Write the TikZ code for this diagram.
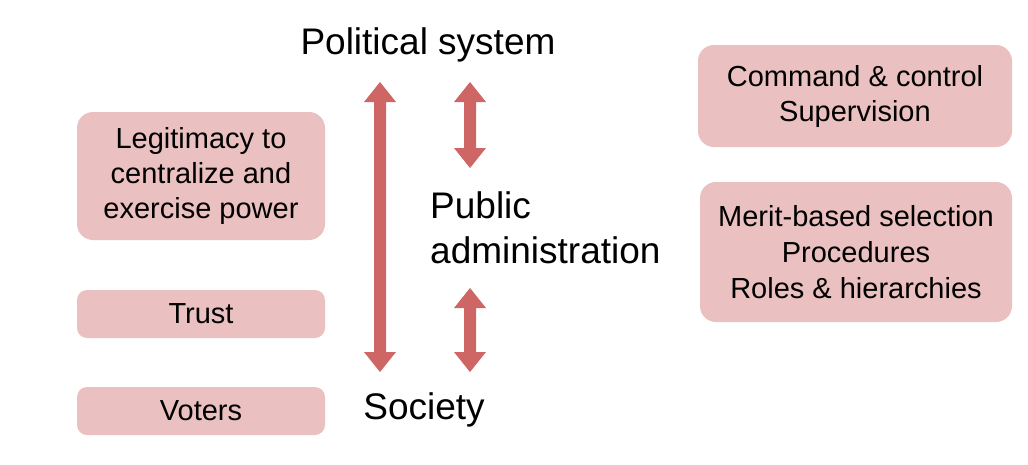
\documentclass[tikz,border=0pt]{standalone}
\usepackage{fontspec}
\setmainfont{Liberation Sans}
\definecolor{boxc}{HTML}{EBC0C0}
\definecolor{arr}{HTML}{CD6664}
\begin{document}
\begin{tikzpicture}[x=1pt,y=-1pt,
  box/.style={fill=boxc,rounded corners=16pt,align=center,font=\fontsize{29}{35}\selectfont,inner sep=0},
  big/.style={font=\fontsize{37}{45}\selectfont,inner sep=0}]
\useasboundingbox (0,0) rectangle (1028,464);
\def\darrow#1#2#3{% x, ytop, ybottom
  \fill[arr] (#1,#2) -- (#1+16,#2+20) -- (#1+6,#2+20) -- (#1+6,#3-20) -- (#1+16,#3-20) -- (#1,#3) -- (#1-16,#3-20) -- (#1-6,#3-20) -- (#1-6,#2+20) -- (#1-16,#2+20) -- cycle;}
\darrow{380}{82}{372}
\darrow{470}{82}{168}
\darrow{470}{288}{372}
\node[box,minimum width=248,minimum height=128] (legit) at (201,176) {Legitimacy to\\centralize and\\exercise power};
\node[box,minimum width=248,minimum height=48,rounded corners=10pt] (trust) at (201,314) {Trust};
\node[box,minimum width=248,minimum height=48,rounded corners=10pt] (voters) at (201,411) {Voters};
\node[box,minimum width=314,minimum height=102] (cmd) at (855,96) {Command \& control\\Supervision};
\node[box,minimum width=312,minimum height=140,font=\fontsize{29}{36}\selectfont] (merit) at (856,252) {Merit-based selection\\Procedures\\Roles \& hierarchies};
\node[big] (pol) at (428,45) {Political system};
\node[big,align=left,anchor=west] (pa) at (430,228) {Public\\administration};
\node[big] (soc) at (424,410) {Society};
\end{tikzpicture}
\end{document}
